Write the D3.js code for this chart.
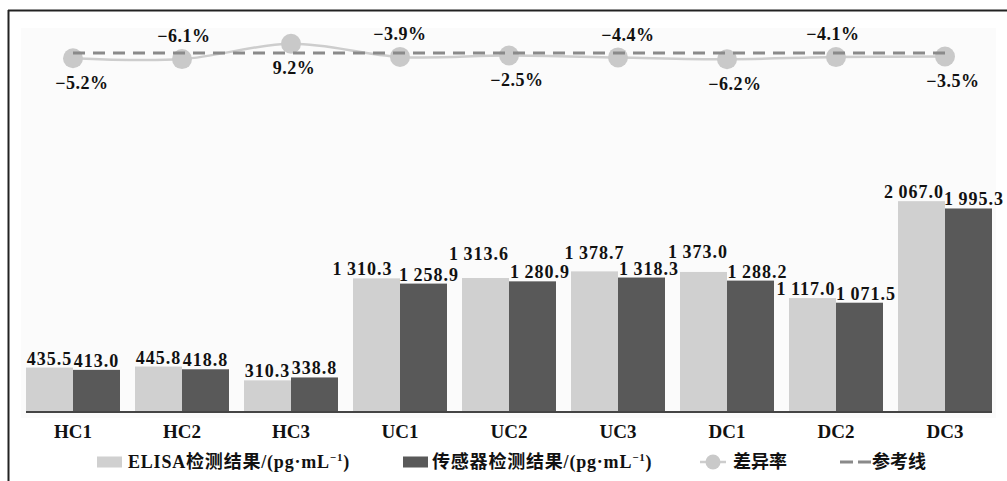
<!DOCTYPE html>
<html>
<head>
<meta charset="utf-8">
<script src="https://cdn.jsdelivr.net/npm/d3@7"></script>
<style>
  html, body { margin: 0; padding: 0; background: #fff; }
  svg { display: block; }
  .serif { font-family: "Liberation Serif", "Times New Roman", "Noto Sans CJK SC", serif; font-weight: bold; fill: #111; }
</style>
</head>
<body>
<svg id="chart" width="1007" height="481"></svg>
<script>
// Sample groups and measured concentrations (pg/mL)
const categories = ["HC1", "HC2", "HC3", "UC1", "UC2", "UC3", "DC1", "DC2", "DC3"];
const elisaValues = [435.5, 445.8, 310.3, 1310.3, 1313.6, 1378.7, 1373.0, 1117.0, 2067.0];
const sensorValues = [413.0, 418.8, 338.8, 1258.9, 1280.9, 1318.3, 1288.2, 1071.5, 1995.3];
// Relative difference of the sensor against ELISA (%)
const diffRates = [-5.2, -6.1, 9.2, -3.9, -2.5, -4.4, -6.2, -4.1, -3.5];
const seriesKeys = ["elisa", "sensor"];
const legendNames = ["ELISA检测结果/(pg·mL", "传感器检测结果/(pg·mL", "差异率", "参考线"];

// Label placement tweaks so crowded value labels do not collide
const elisaLabelShift = [[0, 0], [0, 0], [0, 0], [-14, 0], [-6.5, -15], [0, -9], [-5.5, -11], [-6.5, 0], [-7.5, 0]];
const sensorLabelShift = [[0, 0], [0, 0], [0, 0], [5.5, 0], [7.5, 0], [7.5, 0], [7, 0], [6.5, 0], [5.5, 0]];
const rateLabelShift = [9, 2, 3, 0, 8, 10, 8, -3, 8];

const colors = { elisa: "#d0d0d0", sensor: "#595959", rate: "#c9c9c9", rateLine: "#cdcdcd", ref: "#8a8a8a" };

const svg = d3.select("#chart");
const baseY = 412;

// Frame
svg.append("rect").attr("x", 21).attr("y", 28).attr("width", 975).attr("height", 390).attr("fill", "#fbfbfb");
svg.append("line").attr("x1", 8.5).attr("x2", 8.5).attr("y1", 10).attr("y2", 481).attr("stroke", "#222").attr("stroke-width", 2);
svg.append("line").attr("x1", 8).attr("x2", 1007).attr("y1", 10.5).attr("y2", 10.5).attr("stroke", "#222").attr("stroke-width", 2);

// Scales
const x = d3.scaleBand().domain(categories).range([18.5, 999.5])
  .paddingInner(15 / 109).paddingOuter(7.5 / 109);
const xs = d3.scaleBand().domain(seriesKeys).range([0, x.bandwidth()]);
const y = d3.scaleLinear().domain([0, 2500]).range([baseY, 157]);
const yRate = d3.scaleLinear().domain([-10, 10]).range([63, 43]);

const fmtVal = d3.formatLocale({ decimal: ".", thousands: "\u2009", grouping: [3], minus: "\u2212" }).format(",.1f");
const fmtPct = d => d3.format(".1f")(d) + "%";

// Bars
const rows = categories.map((c, i) => ({ cat: c, i, elisa: elisaValues[i], sensor: sensorValues[i] }));
const groups = svg.append("g").selectAll("g").data(rows).join("g")
  .attr("transform", d => `translate(${x(d.cat)},0)`);

groups.selectAll("rect").data(d => seriesKeys.map(k => ({ key: k, value: d[k], i: d.i }))).join("rect")
  .attr("x", d => xs(d.key))
  .attr("width", xs.bandwidth())
  .attr("y", d => y(d.value))
  .attr("height", d => baseY - y(d.value))
  .attr("fill", d => colors[d.key]);

groups.selectAll("text").data(d => seriesKeys.map(k => ({ key: k, value: d[k], i: d.i }))).join("text")
  .attr("class", "serif")
  .attr("text-anchor", "middle")
  .attr("font-size", 18)
  .attr("letter-spacing", 1)
  .attr("x", d => {
    const s = (d.key === "elisa" ? elisaLabelShift : sensorLabelShift)[d.i];
    return xs(d.key) + xs.bandwidth() / 2 + s[0];
  })
  .attr("y", d => {
    const s = (d.key === "elisa" ? elisaLabelShift : sensorLabelShift)[d.i];
    return y(d.value) - 3 + s[1];
  })
  .text(d => fmtVal(d.value));

// Category axis
const axis = svg.append("g").attr("transform", `translate(0,${baseY})`)
  .call(d3.axisBottom(x).tickSize(0).tickPadding(13));
axis.select(".domain").remove();
axis.selectAll("text").attr("class", "serif").attr("font-size", 19)
  .attr("font-family", null).style("fill", "#111");
svg.append("line")
  .attr("x1", x(categories[0])).attr("x2", x(categories[categories.length - 1]) + x.bandwidth())
  .attr("y1", baseY).attr("y2", baseY)
  .attr("stroke", "#444").attr("stroke-width", 2);

// Difference-rate line with markers
const cx = c => x(c) + x.bandwidth() / 2;
const ratePts = categories.map((c, i) => [cx(c), yRate(diffRates[i])]);
svg.append("path")
  .attr("d", d3.line().curve(d3.curveCatmullRom.alpha(0.5))(ratePts))
  .attr("fill", "none").attr("stroke", colors.rateLine).attr("stroke-width", 2.5);
svg.append("g").selectAll("circle").data(ratePts).join("circle")
  .attr("cx", d => d[0]).attr("cy", d => d[1]).attr("r", 10).attr("fill", colors.rate);

// Zero reference line
svg.append("line")
  .attr("x1", cx(categories[0])).attr("x2", cx(categories[categories.length - 1]))
  .attr("y1", yRate(0)).attr("y2", yRate(0))
  .attr("stroke", colors.ref).attr("stroke-width", 3).attr("stroke-dasharray", "12,8");

svg.append("g").selectAll("text").data(diffRates).join("text")
  .attr("class", "serif")
  .attr("text-anchor", "middle")
  .attr("font-size", 18)
  .attr("letter-spacing", 0.5)
  .attr("x", (d, i) => cx(categories[i]) + rateLabelShift[i])
  .attr("y", (d, i) => yRate(d) + (i % 2 === 0 ? 24 : -23))
  .attr("dy", "0.35em")
  .text(d => fmtPct(d));

// Legend
const legY = 462;
const leg = svg.append("g");
function unitLabel(g, xPos, name) {
  const t = g.append("text").attr("class", "serif").attr("font-size", 18)
    .attr("x", xPos).attr("y", legY).attr("dy", "0.35em").attr("letter-spacing", 0.8);
  t.append("tspan").text(name);
  t.append("tspan").attr("font-size", 11).attr("dy", -7).text("\u22121");
  t.append("tspan").attr("dy", 7).text(")");
}
leg.append("rect").attr("x", 97).attr("y", legY - 5.5).attr("width", 25).attr("height", 11).attr("fill", colors.elisa);
unitLabel(leg, 128, legendNames[0]);
leg.append("rect").attr("x", 403).attr("y", legY - 5.5).attr("width", 25).attr("height", 11).attr("fill", colors.sensor);
unitLabel(leg, 432, legendNames[1]);

leg.append("line").attr("x1", 700).attr("x2", 726).attr("y1", legY).attr("y2", legY)
  .attr("stroke", colors.rateLine).attr("stroke-width", 2.5);
leg.append("circle").attr("cx", 713).attr("cy", legY).attr("r", 7.5).attr("fill", colors.rate);
leg.append("text").attr("class", "serif").attr("font-size", 18)
  .attr("x", 733).attr("y", legY).attr("dy", "0.35em").text(legendNames[2]);

leg.append("line").attr("x1", 840).attr("x2", 871).attr("y1", legY).attr("y2", legY)
  .attr("stroke", colors.ref).attr("stroke-width", 3).attr("stroke-dasharray", "13,5");
leg.append("text").attr("class", "serif").attr("font-size", 18)
  .attr("x", 872).attr("y", legY).attr("dy", "0.35em").text(legendNames[3]);
</script>
</body>
</html>
